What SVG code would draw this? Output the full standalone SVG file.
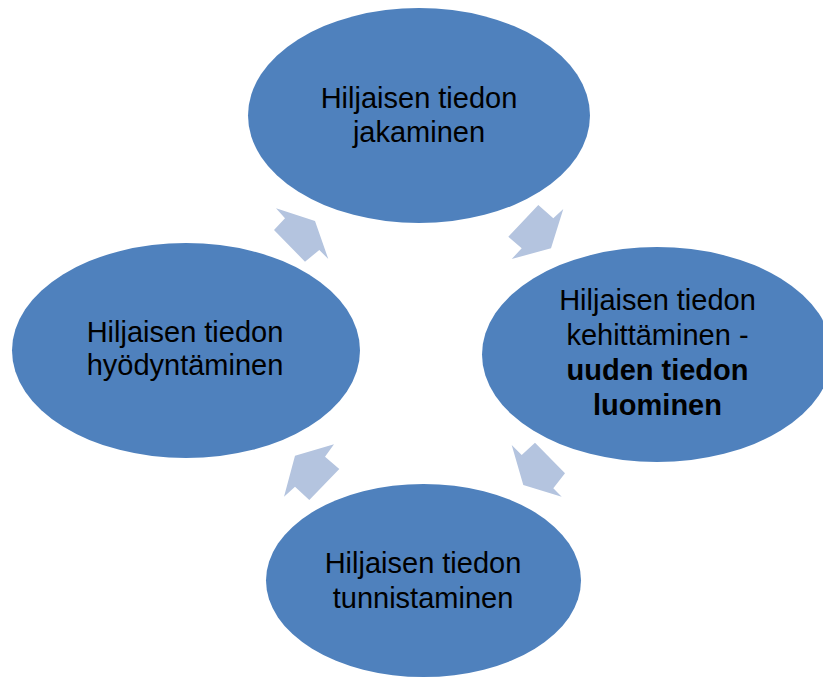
<svg xmlns="http://www.w3.org/2000/svg" width="823" height="679" viewBox="0 0 823 679">
<style>
.node{fill:#4F81BD;}
.arr{fill:#B4C4DF;}
.t{font-family:"Liberation Sans",Arial,sans-serif;font-size:29px;fill:#000;text-anchor:middle;}
.b{font-weight:bold;}
</style>
<rect width="823" height="679" fill="#fff"/>
<g id="connectors">
<polygon class="arr" points="315,221 328.3,259 319.3,250 305,261.7 274,230 285,218.3 276,208.3"/>
<polygon class="arr" points="551,248.3 511.7,259 521.7,248.3 508.3,236.7 538.3,205 553.3,218.3 563.3,209"/>
<polygon class="arr" points="523.3,485 511.7,445 521.7,455 535,442.7 565,473.3 553.3,488.3 561.7,496.7"/>
<polygon class="arr" points="295,455.7 334,444.3 325,456.7 339.3,469 309.3,500 295,486.7 284,496.7"/>
</g>
<g id="node-jakaminen">
<ellipse class="node" cx="419" cy="115.5" rx="171" ry="107.5"/>
<text class="t" x="419" y="108">Hiljaisen tiedon</text>
<text class="t" x="419" y="141.5">jakaminen</text>
</g>
<g id="node-kehittaminen">
<ellipse class="node" cx="657" cy="354.5" rx="175" ry="107.5"/>
<text class="t" x="657.5" y="309.5">Hiljaisen tiedon</text>
<text class="t" x="657.5" y="345">kehittäminen -</text>
<text class="t b" x="657.5" y="380">uuden tiedon</text>
<text class="t b" x="657.5" y="415">luominen</text>
</g>
<g id="node-tunnistaminen">
<ellipse class="node" cx="423.5" cy="580.5" rx="157.5" ry="96.5"/>
<text class="t" x="423" y="572.5">Hiljaisen tiedon</text>
<text class="t" x="423" y="607.5">tunnistaminen</text>
</g>
<g id="node-hyodyntaminen">
<ellipse class="node" cx="186" cy="350.5" rx="174" ry="107.5"/>
<text class="t" x="185" y="341.5">Hiljaisen tiedon</text>
<text class="t" x="185" y="375">hyödyntäminen</text>
</g>
</svg>
